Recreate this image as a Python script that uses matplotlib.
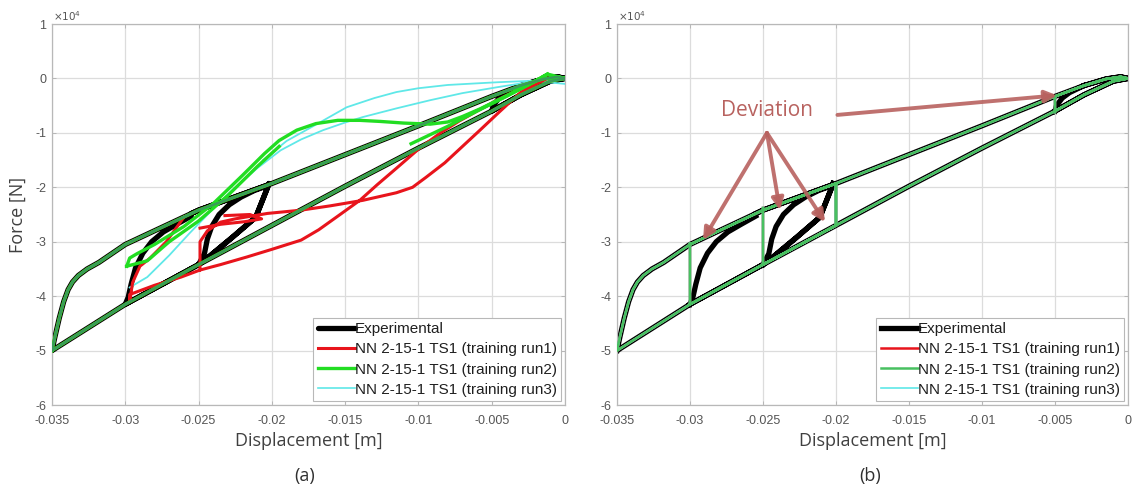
import numpy as np
import matplotlib
matplotlib.use("Agg")
import matplotlib.pyplot as plt
from matplotlib.ticker import FuncFormatter

plt.rcParams['font.family'] = ['Liberation Sans', 'DejaVu Sans']
plt.rcParams['axes.unicode_minus'] = False

# ---------------- data (force in units of 1e4 N, displacement in m) ----------------
# loading branch (lower line), 0 -> -0.035
lower_x = [0.0, -0.001, -0.003, -0.005, -0.010, -0.015, -0.020, -0.025, -0.030, -0.035]
lower_f = [0.0, -0.05, -0.30, -0.60, -1.28, -1.98, -2.70, -3.42, -4.15, -5.00]
# unloading branch (upper line), -0.035 -> 0
upper_x = [-0.035, -0.0348, -0.0345, -0.0342, -0.0339, -0.0336, -0.0332, -0.0326, -0.0318,
           -0.030, -0.025, -0.020, -0.015, -0.010, -0.005, -0.003, -0.0015, -0.0005, 0.0]
upper_f = [-5.00, -4.75, -4.40, -4.10, -3.88, -3.74, -3.62, -3.50, -3.38,
           -3.05, -2.42, -1.93, -1.40, -0.87, -0.33, -0.13, -0.01, 0.03, 0.0]

# experimental inner reversal curves
exp_rev005_x = [-0.005, -0.0049, -0.0045, -0.004, -0.003]
exp_rev005_f = [-0.60, -0.50, -0.36, -0.26, -0.13]
exp_load02_x = [-0.0202, -0.0203, -0.0211, -0.0227, -0.0244, -0.025]
exp_load02_f = [-1.93, -2.01, -2.55, -2.92, -3.30, -3.42]
exp_rev025_x = [-0.025, -0.0246, -0.0244, -0.0241, -0.0236, -0.0229, -0.0221, -0.0212, -0.0205]
exp_rev025_f = [-3.42, -3.22, -2.95, -2.72, -2.50, -2.32, -2.18, -2.06, -1.99]
exp_rev03_x = [-0.030, -0.0298, -0.0296, -0.0293, -0.0288, -0.0282, -0.0274, -0.0265, -0.0255]
exp_rev03_f = [-4.15, -4.02, -3.78, -3.48, -3.21, -3.00, -2.82, -2.68, -2.53]

# NN run1 (red) deviating paths, panel (a)
run1_a_x = [-0.0012, -0.003, -0.0045, -0.0058, -0.007, -0.0082, -0.0095, -0.0104, -0.0115,
            -0.0138, -0.016, -0.018, -0.0203, -0.0225, -0.0235, -0.0244, -0.0249, -0.0249,
            -0.0262, -0.028, -0.0297, -0.0297, -0.0295, -0.029, -0.0283, -0.0272, -0.026]
run1_a_f = [0.0, -0.25, -0.62, -0.95, -1.25, -1.55, -1.82, -2.00, -2.10,
            -2.24, -2.34, -2.42, -2.48, -2.58, -2.64, -2.80, -3.00, -3.52,
            -3.65, -3.80, -3.97, -4.10, -3.75, -3.45, -3.30, -3.00, -2.55]
run1_b_x = [-0.0249, -0.0235, -0.0217, -0.020, -0.018, -0.0168, -0.0155, -0.014, -0.0128,
            -0.0115, -0.010, -0.0085, -0.0072, -0.006, -0.0045, -0.003, -0.0015]
run1_b_f = [-3.52, -3.42, -3.28, -3.14, -2.97, -2.78, -2.53, -2.24, -1.95,
            -1.65, -1.30, -1.00, -0.78, -0.60, -0.38, -0.18, -0.02]
run1_c_x = [-0.0249, -0.0235, -0.0218, -0.0207, -0.0215, -0.0232]
run1_c_f = [-2.75, -2.68, -2.63, -2.58, -2.50, -2.52]

# NN run2 (green) deviating paths, panel (a)
run2_a_x = [-0.0299, -0.0297, -0.0292, -0.028, -0.026, -0.024, -0.022, -0.0205, -0.0195,
            -0.0183, -0.017, -0.0155, -0.014, -0.0126, -0.011, -0.0092, -0.008, -0.007,
            -0.0058, -0.0046, -0.0035, -0.0024, -0.0012, 0.0]
run2_a_f = [-3.45, -3.30, -3.22, -3.05, -2.72, -2.30, -1.78, -1.38, -1.14,
            -0.95, -0.83, -0.77, -0.77, -0.79, -0.82, -0.84, -0.80, -0.70,
            -0.56, -0.40, -0.25, -0.10, 0.08, 0.0]
run2_b_x = [-0.0299, -0.0285, -0.027, -0.025, -0.023, -0.021, -0.0195]
run2_b_f = [-3.45, -3.35, -3.00, -2.62, -2.15, -1.62, -1.25]
run2_c_x = [-0.0105, -0.008, -0.006, -0.004, -0.002, -0.0012]
run2_c_f = [-1.20, -0.88, -0.60, -0.33, -0.05, 0.08]

# NN run3 (cyan) deviating paths, panel (a)
run3_a_x = [-0.0297, -0.0285, -0.027, -0.0256, -0.0242, -0.0229, -0.021, -0.0194, -0.018,
            -0.0165, -0.015, -0.0138, -0.0115, -0.0092, -0.007, -0.0046, -0.002, 0.0, 0.0003]
run3_a_f = [-3.84, -3.65, -3.25, -2.84, -2.45, -2.10, -1.65, -1.32, -1.12,
            -0.95, -0.81, -0.71, -0.55, -0.40, -0.27, -0.16, -0.05, -0.10, -0.16]
run3_b_x = [-0.0206, -0.019, -0.017, -0.0149, -0.013, -0.0115, -0.010, -0.008, -0.006,
            -0.0046, -0.002, 0.0]
run3_b_f = [-1.50, -1.15, -0.85, -0.53, -0.36, -0.25, -0.18, -0.12, -0.09,
            -0.07, -0.04, -0.02]

# NN (panel b) vertical jumps at reversal points
jump_x = [-0.005, -0.020, -0.025, -0.030]
jump_lo = [-0.62, -2.68, -3.40, -4.13]
jump_hi = [-0.33, -1.93, -2.38, -3.03]

xticks = [-0.035, -0.03, -0.025, -0.02, -0.015, -0.01, -0.005, 0]
yticks = [1, 0, -1, -2, -3, -4, -5, -6]

labels = ["Experimental", "NN 2-15-1 TS1 (training run1)",
          "NN 2-15-1 TS1 (training run2)", "NN 2-15-1 TS1 (training run3)"]

NaN = [np.nan]


def concat(*parts):
    xs, fs = [], []
    for x, f in parts:
        xs += list(x) + NaN
        fs += list(f) + NaN
    return np.array(xs), np.array(fs)


def lower_until(xend):
    xs = [x for x in lower_x if x >= xend]
    fs = [f for x, f in zip(lower_x, lower_f) if x >= xend]
    if xs[-1] != xend:
        xs.append(xend)
        fs.append(np.interp(-xend, [-v for v in lower_x], lower_f))
    return xs, fs


def lower_between(x0, x1):
    xs = [x0] + [x for x in lower_x if x1 < x < x0] + [x1]
    rx = [-v for v in lower_x]
    fs = [np.interp(-v, rx, lower_f) for v in xs]
    return xs, fs


def upper_from(x0):
    xs = [x0] + [x for x in upper_x if x > x0]
    fs = [np.interp(v, upper_x, upper_f) for v in xs]
    return xs, fs


def upper_between(x0, x1):
    xs = [x0] + [x for x in upper_x if x0 < x < x1] + [x1]
    fs = [np.interp(v, upper_x, upper_f) for v in xs]
    return xs, fs


# experimental full path
exp_x, exp_f = concat(
    lower_until(-0.005), (exp_rev005_x, exp_rev005_f), upper_from(-0.003),
    (lower_x, lower_f), upper_between(-0.035, -0.0202),
    (exp_load02_x, exp_load02_f), (exp_rev025_x, exp_rev025_f),
    (exp_load02_x, exp_load02_f), lower_between(-0.025, -0.030),
    (exp_rev03_x, exp_rev03_f), upper_from(-0.0255))

# NN path (outer loop plus vertical jumps)
nn_x, nn_f = concat(
    lower_until(jump_x[0]), ([jump_x[0]] * 2, [jump_lo[0], jump_hi[0]]), upper_from(jump_x[0]),
    (lower_x, lower_f), upper_between(-0.035, jump_x[1]),
    ([jump_x[1]] * 2, [jump_hi[1], jump_lo[1]]), lower_between(jump_x[1], jump_x[2]),
    ([jump_x[2]] * 2, [jump_lo[2], jump_hi[2]]), upper_between(jump_x[2], jump_x[1]),
    ([jump_x[1]] * 2, [jump_hi[1], jump_lo[1]]), lower_between(jump_x[1], jump_x[3]),
    ([jump_x[3]] * 2, [jump_lo[3], jump_hi[3]]), upper_from(jump_x[3]))

outer_x, outer_f = concat((lower_x, lower_f), (upper_x, upper_f))

run1_x, run1_f = concat((outer_x, outer_f), (run1_a_x, run1_a_f), (run1_b_x, run1_b_f),
                        (run1_c_x, run1_c_f))
run2_x, run2_f = concat((outer_x, outer_f), (run2_a_x, run2_a_f), (run2_b_x, run2_b_f),
                        (run2_c_x, run2_c_f))
run3_x, run3_f = concat((run3_a_x, run3_a_f), (run3_b_x, run3_b_f))

C_EXP = '#000000'
C_R1 = '#e8141c'
C_R2 = '#22dd22'
C_R3 = '#5fe8e8'
GRAY_TXT = '#555555'

fig = plt.figure(figsize=(11.35, 4.92), dpi=100)
ax_a = fig.add_axes([0.0458, 0.1768, 0.452, 0.7744])
ax_b = fig.add_axes([0.5436, 0.1768, 0.4502, 0.7744])


def style(ax):
    ax.set_xlim(-0.035, 0)
    ax.set_ylim(-6, 1)
    ax.set_xticks(xticks)
    ax.set_yticks(yticks)
    ax.xaxis.set_major_formatter(FuncFormatter(lambda v, p: '%g' % round(v, 4) if v != 0 else '0'))
    ax.yaxis.set_major_formatter(FuncFormatter(lambda v, p: '%d' % v))
    ax.grid(True, color='#dcdcdc', lw=0.9)
    ax.set_axisbelow(True)
    for s in ax.spines.values():
        s.set_color('#b8b8b8')
        s.set_linewidth(0.9)
    ax.tick_params(direction='in', length=3, width=0.6, colors='#b0b0b0',
                   labelcolor=GRAY_TXT, labelsize=9, top=True, right=True)
    ax.tick_params(axis='x', pad=7)
    ax.tick_params(axis='y', pad=4)
    ax.set_xlabel('Displacement [m]', fontfamily='Open Sans', fontsize=13,
                  color='#404040', labelpad=4)
    ax.text(0.002, 1.003, r'$\times10^{4}$', transform=ax.transAxes, ha='left',
            va='bottom', fontsize=7.5, color=GRAY_TXT)


style(ax_a)
style(ax_b)
ax_a.set_ylabel('Force [N]', fontfamily='Open Sans', fontsize=13, color='#404040', labelpad=6)

# panel (a)
ax_a.plot(exp_x, exp_f, color=C_EXP, lw=3.8, solid_capstyle='round', zorder=2, label=labels[0])
ax_a.plot(run3_x, run3_f, color=C_R3, lw=1.3, zorder=3)
ax_a.plot(run1_x, run1_f, color=C_R1, lw=2.2, zorder=4, label=labels[1])
ax_a.plot(run2_x, run2_f, color=C_R2, lw=2.4, zorder=5, label=labels[2])
ax_a.plot([], [], color=C_R3, lw=1.2, label=labels[3])
# outer loop shown green-on-black like the reference
ax_a.plot(outer_x, outer_f, color='#3a9a5a', lw=1.8, zorder=6)

# panel (b)
ax_b.plot(exp_x, exp_f, color=C_EXP, lw=3.8, zorder=2, label=labels[0])
ax_b.plot(nn_x, nn_f, color=C_R1, lw=1.8, zorder=3, label=labels[1])
ax_b.plot(nn_x, nn_f, color=C_R3, lw=1.8, zorder=4)
ax_b.plot(nn_x, nn_f, color='#48c060', lw=1.8, zorder=5, label=labels[2])
ax_b.plot([], [], color=C_R3, lw=1.2, label=labels[3])

for ax in (ax_a, ax_b):
    h, l = ax.get_legend_handles_labels()
    order = [labels.index(x) for x in l]
    hl = sorted(zip(order, h, l))
    leg = ax.legend([x[1] for x in hl], [x[2] for x in hl], loc='lower right',
                    fontsize=11, handlelength=2.4, handletextpad=0.0,
                    labelspacing=0.4, borderaxespad=0.25, borderpad=0.3,
                    fancybox=False, framealpha=1, edgecolor='#b8b8b8')
    leg.get_frame().set_linewidth(0.8)
    for t in leg.get_texts():
        t.set_color('#202020')

# annotations in (b)
arrow_col = '#b8625f'
ann_text_xy = (-0.0247, -0.58)
apex = (-0.02473, -1.0)
tips = [(-0.02911, -2.97), (-0.02384, -2.42), (-0.02075, -2.64)]
ax_b.text(*ann_text_xy, 'Deviation', fontfamily='Open Sans', fontsize=15,
          color=arrow_col, ha='center', va='center', zorder=7)
for t in tips:
    ax_b.annotate('', xy=t, xytext=apex,
                  arrowprops=dict(arrowstyle='-|>,head_length=0.7,head_width=0.35',
                                  color=arrow_col, lw=2.8, shrinkA=0, shrinkB=0, alpha=0.9),
                  zorder=8)
ax_b.annotate('', xy=(-0.00486, -0.31), xytext=(-0.0199, -0.67),
              arrowprops=dict(arrowstyle='-|>,head_length=0.7,head_width=0.35',
                              color=arrow_col, lw=2.8, shrinkA=0, shrinkB=0, alpha=0.9),
              zorder=8)

fig.text(0.268, 0.033, '(a)', fontfamily='Open Sans', fontsize=13, color='#303030',
         ha='center', va='center')
fig.text(0.767, 0.033, '(b)', fontfamily='Open Sans', fontsize=13, color='#303030',
         ha='center', va='center')

fig.savefig('out.png', dpi=100)
